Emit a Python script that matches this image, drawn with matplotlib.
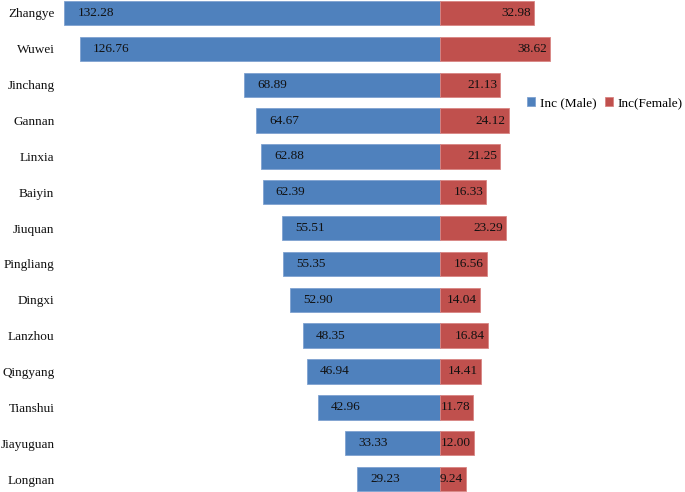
import matplotlib.pyplot as plt
import matplotlib.transforms as mtransforms

cities = ['Zhangye', 'Wuwei', 'Jinchang', 'Gannan', 'Linxia', 'Baiyin', 'Jiuquan',
          'Pingliang', 'Dingxi', 'Lanzhou', 'Qingyang', 'Tianshui', 'Jiayuguan', 'Longnan']
male = [132.28, 126.76, 68.89, 64.67, 62.88, 62.39, 55.51,
        55.35, 52.90, 48.35, 46.94, 42.96, 33.33, 29.23]
female = [32.98, 38.62, 21.13, 24.12, 21.25, 16.33, 23.29,
          16.56, 14.04, 16.84, 14.41, 11.78, 12.00, 9.24]

plt.rcParams['font.family'] = ['Liberation Serif', 'DejaVu Serif']

blue = '#4F81BD'
red = '#C0504D'

fig = plt.figure(figsize=(6.85, 4.92), dpi=100)
ax = fig.add_axes([60 / 685, 0, 1 - 60 / 685, 1])

y = list(range(len(cities)))
ax.barh(y, [-m for m in male], height=0.68, color=blue, edgecolor='#7FA2D0', linewidth=0.6,
        label='Inc (Male)')
ax.barh(y, female, height=0.68, color=red, edgecolor='#D98583', linewidth=0.6,
        label='Inc(Female)')

# value labels
off = mtransforms.offset_copy(ax.transData, fig=fig, x=13, y=0, units='dots')
off_r = mtransforms.offset_copy(ax.transData, fig=fig, x=-3, y=0, units='dots')
for i, (m, f) in enumerate(zip(male, female)):
    ax.text(-m, i, f'{m:.2f}', transform=off, ha='left', va='center', fontsize=9.5, color='#111111')
    ax.text(f, i, f'{f:.2f}', transform=off_r, ha='right', va='center', fontsize=9.5, color='#111111')

scale = 2.84  # pixels per unit
ax.set_xlim(-(440 - 60) / scale, (685 - 440) / scale)
ax.set_ylim((492 - 13) / 35.85, -13 / 35.85)

ax.set_yticks(y)
ax.set_yticklabels(cities, fontsize=9.5, color='#111111')
ax.tick_params(axis='y', length=0, pad=4)
ax.set_xticks([])
for s in ax.spines.values():
    s.set_visible(False)

fig.legend(loc='center left', bbox_to_anchor=(527 / 685, 1 - 103 / 492), ncol=2,
           frameon=False, fontsize=9.5, handlelength=0.6, handleheight=0.6,
           handletextpad=0.4, columnspacing=0.6, borderaxespad=0, borderpad=0)

fig.savefig('out.png', dpi=100)
